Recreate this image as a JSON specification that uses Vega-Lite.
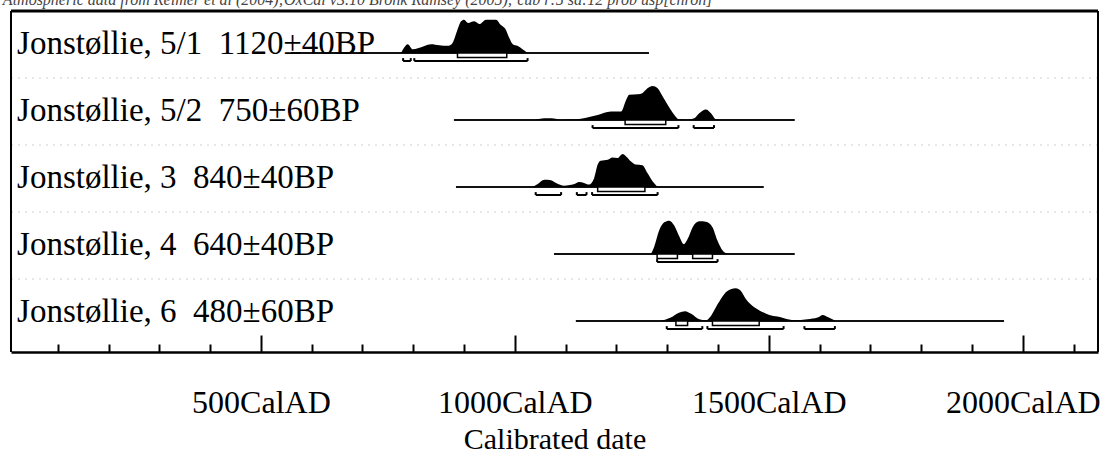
{
  "$schema": "https://vega.github.io/schema/vega-lite/v6.json",
  "padding": {"left": 2, "top": -8, "right": 0, "bottom": 0},
  "background": "white",
  "config": {
    "view": {"stroke": null},
    "font": "Liberation Serif"
  },
  "data": {
    "values": [
      {"id": "5/1", "kind": "line", "label": "Jonstøllie, 5/1\u00a0 1120±40BP", "from": 559, "to": 1264, "note": "Atmospheric data from Reimer et al (2004);OxCal v3.10 Bronk Ramsey (2005); cub r:5 sd:12 prob usp[chron]"},
      {"id": "5/2", "kind": "line", "label": "Jonstøllie, 5/2\u00a0 750±60BP", "from": 880, "to": 1551},
      {"id": "3", "kind": "line", "label": "Jonstøllie, 3\u00a0 840±40BP", "from": 884, "to": 1490},
      {"id": "4", "kind": "line", "label": "Jonstøllie, 4\u00a0 640±40BP", "from": 1077, "to": 1551},
      {"id": "6", "kind": "line", "label": "Jonstøllie, 6\u00a0 480±60BP", "from": 1120, "to": 1963},

      {"id": "5/1", "kind": "r68", "from": 887, "to": 984},
      {"id": "5/1", "kind": "r95", "from": 780, "to": 795},
      {"id": "5/1", "kind": "r95", "from": 802, "to": 1025},
      {"id": "5/2", "kind": "r68", "from": 1217, "to": 1297},
      {"id": "5/2", "kind": "r95", "from": 1153, "to": 1322},
      {"id": "5/2", "kind": "r95", "from": 1352, "to": 1392},
      {"id": "3", "kind": "r68", "from": 1163, "to": 1256},
      {"id": "3", "kind": "r95", "from": 1041, "to": 1091},
      {"id": "3", "kind": "r95", "from": 1122, "to": 1141},
      {"id": "3", "kind": "r95", "from": 1152, "to": 1281},
      {"id": "4", "kind": "r68", "from": 1280, "to": 1320},
      {"id": "4", "kind": "r68", "from": 1350, "to": 1389},
      {"id": "4", "kind": "r95", "from": 1280, "to": 1399},
      {"id": "6", "kind": "r68", "from": 1317, "to": 1340},
      {"id": "6", "kind": "r68", "from": 1389, "to": 1481},
      {"id": "6", "kind": "r95", "from": 1299, "to": 1369},
      {"id": "6", "kind": "r95", "from": 1379, "to": 1529},
      {"id": "6", "kind": "r95", "from": 1570, "to": 1630},

      {"id": "5/1", "kind": "d", "year": 776, "p": 0},
      {"id": "5/1", "kind": "d", "year": 782, "p": 0.16},
      {"id": "5/1", "kind": "d", "year": 789, "p": 0.26},
      {"id": "5/1", "kind": "d", "year": 799, "p": 0.11},
      {"id": "5/1", "kind": "d", "year": 809, "p": 0.14},
      {"id": "5/1", "kind": "d", "year": 835, "p": 0.26},
      {"id": "5/1", "kind": "d", "year": 851, "p": 0.23},
      {"id": "5/1", "kind": "d", "year": 868, "p": 0.21},
      {"id": "5/1", "kind": "d", "year": 877, "p": 0.29},
      {"id": "5/1", "kind": "d", "year": 886, "p": 0.64},
      {"id": "5/1", "kind": "d", "year": 894, "p": 0.93},
      {"id": "5/1", "kind": "d", "year": 900, "p": 0.98},
      {"id": "5/1", "kind": "d", "year": 908, "p": 0.88},
      {"id": "5/1", "kind": "d", "year": 920, "p": 0.93},
      {"id": "5/1", "kind": "d", "year": 930, "p": 0.85},
      {"id": "5/1", "kind": "d", "year": 943, "p": 0.98},
      {"id": "5/1", "kind": "d", "year": 963, "p": 0.98},
      {"id": "5/1", "kind": "d", "year": 972, "p": 0.83},
      {"id": "5/1", "kind": "d", "year": 982, "p": 0.69},
      {"id": "5/1", "kind": "d", "year": 989, "p": 0.44},
      {"id": "5/1", "kind": "d", "year": 996, "p": 0.26},
      {"id": "5/1", "kind": "d", "year": 1005, "p": 0.21},
      {"id": "5/1", "kind": "d", "year": 1015, "p": 0.11},
      {"id": "5/1", "kind": "d", "year": 1025, "p": 0},

      {"id": "5/2", "kind": "d", "year": 1040, "p": 0},
      {"id": "5/2", "kind": "d", "year": 1050, "p": 0.04},
      {"id": "5/2", "kind": "d", "year": 1065, "p": 0.05},
      {"id": "5/2", "kind": "d", "year": 1080, "p": 0.04},
      {"id": "5/2", "kind": "d", "year": 1090, "p": 0.0},
      {"id": "5/2", "kind": "d", "year": 1100, "p": 0.01},
      {"id": "5/2", "kind": "d", "year": 1130, "p": 0.04},
      {"id": "5/2", "kind": "d", "year": 1163, "p": 0.15},
      {"id": "5/2", "kind": "d", "year": 1189, "p": 0.25},
      {"id": "5/2", "kind": "d", "year": 1209, "p": 0.25},
      {"id": "5/2", "kind": "d", "year": 1219, "p": 0.59},
      {"id": "5/2", "kind": "d", "year": 1225, "p": 0.74},
      {"id": "5/2", "kind": "d", "year": 1242, "p": 0.76},
      {"id": "5/2", "kind": "d", "year": 1251, "p": 0.79},
      {"id": "5/2", "kind": "d", "year": 1261, "p": 0.93},
      {"id": "5/2", "kind": "d", "year": 1271, "p": 1.0},
      {"id": "5/2", "kind": "d", "year": 1281, "p": 0.93},
      {"id": "5/2", "kind": "d", "year": 1291, "p": 0.69},
      {"id": "5/2", "kind": "d", "year": 1301, "p": 0.44},
      {"id": "5/2", "kind": "d", "year": 1314, "p": 0.15},
      {"id": "5/2", "kind": "d", "year": 1323, "p": 0.02},
      {"id": "5/2", "kind": "d", "year": 1340, "p": 0.01},
      {"id": "5/2", "kind": "d", "year": 1353, "p": 0.05},
      {"id": "5/2", "kind": "d", "year": 1363, "p": 0.2},
      {"id": "5/2", "kind": "d", "year": 1376, "p": 0.31},
      {"id": "5/2", "kind": "d", "year": 1386, "p": 0.2},
      {"id": "5/2", "kind": "d", "year": 1396, "p": 0.02},
      {"id": "5/2", "kind": "d", "year": 1405, "p": 0},

      {"id": "3", "kind": "d", "year": 1035, "p": 0},
      {"id": "3", "kind": "d", "year": 1045, "p": 0.09},
      {"id": "3", "kind": "d", "year": 1058, "p": 0.21},
      {"id": "3", "kind": "d", "year": 1071, "p": 0.2},
      {"id": "3", "kind": "d", "year": 1081, "p": 0.12},
      {"id": "3", "kind": "d", "year": 1097, "p": 0.04},
      {"id": "3", "kind": "d", "year": 1114, "p": 0.07},
      {"id": "3", "kind": "d", "year": 1127, "p": 0.15},
      {"id": "3", "kind": "d", "year": 1136, "p": 0.12},
      {"id": "3", "kind": "d", "year": 1146, "p": 0.07},
      {"id": "3", "kind": "d", "year": 1156, "p": 0.26},
      {"id": "3", "kind": "d", "year": 1163, "p": 0.66},
      {"id": "3", "kind": "d", "year": 1169, "p": 0.77},
      {"id": "3", "kind": "d", "year": 1183, "p": 0.8},
      {"id": "3", "kind": "d", "year": 1192, "p": 0.87},
      {"id": "3", "kind": "d", "year": 1202, "p": 0.85},
      {"id": "3", "kind": "d", "year": 1212, "p": 0.97},
      {"id": "3", "kind": "d", "year": 1219, "p": 0.9},
      {"id": "3", "kind": "d", "year": 1228, "p": 0.76},
      {"id": "3", "kind": "d", "year": 1238, "p": 0.66},
      {"id": "3", "kind": "d", "year": 1251, "p": 0.64},
      {"id": "3", "kind": "d", "year": 1261, "p": 0.41},
      {"id": "3", "kind": "d", "year": 1271, "p": 0.17},
      {"id": "3", "kind": "d", "year": 1281, "p": 0},

      {"id": "4", "kind": "d", "year": 1268, "p": 0},
      {"id": "4", "kind": "d", "year": 1274, "p": 0.2},
      {"id": "4", "kind": "d", "year": 1284, "p": 0.69},
      {"id": "4", "kind": "d", "year": 1294, "p": 0.93},
      {"id": "4", "kind": "d", "year": 1304, "p": 0.98},
      {"id": "4", "kind": "d", "year": 1314, "p": 0.83},
      {"id": "4", "kind": "d", "year": 1323, "p": 0.54},
      {"id": "4", "kind": "d", "year": 1333, "p": 0.29},
      {"id": "4", "kind": "d", "year": 1340, "p": 0.44},
      {"id": "4", "kind": "d", "year": 1350, "p": 0.79},
      {"id": "4", "kind": "d", "year": 1363, "p": 0.96},
      {"id": "4", "kind": "d", "year": 1376, "p": 0.95},
      {"id": "4", "kind": "d", "year": 1389, "p": 0.79},
      {"id": "4", "kind": "d", "year": 1399, "p": 0.39},
      {"id": "4", "kind": "d", "year": 1409, "p": 0.1},
      {"id": "4", "kind": "d", "year": 1419, "p": 0},

      {"id": "6", "kind": "d", "year": 1287, "p": 0},
      {"id": "6", "kind": "d", "year": 1307, "p": 0.1},
      {"id": "6", "kind": "d", "year": 1323, "p": 0.24},
      {"id": "6", "kind": "d", "year": 1335, "p": 0.29},
      {"id": "6", "kind": "d", "year": 1347, "p": 0.21},
      {"id": "6", "kind": "d", "year": 1363, "p": 0.05},
      {"id": "6", "kind": "d", "year": 1376, "p": 0.02},
      {"id": "6", "kind": "d", "year": 1386, "p": 0.15},
      {"id": "6", "kind": "d", "year": 1399, "p": 0.49},
      {"id": "6", "kind": "d", "year": 1412, "p": 0.79},
      {"id": "6", "kind": "d", "year": 1425, "p": 0.93},
      {"id": "6", "kind": "d", "year": 1435, "p": 0.96},
      {"id": "6", "kind": "d", "year": 1445, "p": 0.88},
      {"id": "6", "kind": "d", "year": 1455, "p": 0.64},
      {"id": "6", "kind": "d", "year": 1468, "p": 0.44},
      {"id": "6", "kind": "d", "year": 1484, "p": 0.29},
      {"id": "6", "kind": "d", "year": 1501, "p": 0.18},
      {"id": "6", "kind": "d", "year": 1517, "p": 0.13},
      {"id": "6", "kind": "d", "year": 1530, "p": 0.08},
      {"id": "6", "kind": "d", "year": 1550, "p": 0.02},
      {"id": "6", "kind": "d", "year": 1576, "p": 0.05},
      {"id": "6", "kind": "d", "year": 1596, "p": 0.1},
      {"id": "6", "kind": "d", "year": 1606, "p": 0.18},
      {"id": "6", "kind": "d", "year": 1616, "p": 0.12},
      {"id": "6", "kind": "d", "year": 1632, "p": 0}
    ]
  },
  "facet": {
    "row": {"field": "id", "type": "nominal", "sort": ["5/1", "5/2", "3", "4", "6"], "header": null, "title": null}
  },
  "spacing": 0,
  "bounds": "flush",
  "spec": {
    "width": 1087,
    "height": 67,
    "layer": [
      {
        "transform": [{"filter": "datum.kind === 'line'"}],
        "mark": {"type": "rule", "color": "#111111", "strokeWidth": 2},
        "encoding": {
          "x": {
            "field": "from", "type": "quantitative",
            "scale": {"domain": [8, 2148], "nice": false, "zero": false},
            "axis": {
              "values": [100, 200, 300, 400, 500, 600, 700, 800, 900, 1000, 1100, 1200, 1300, 1400, 1500, 1600, 1700, 1800, 1900, 2000, 2100],
              "labelExpr": "datum.value % 500 === 0 ? datum.value + 'CalAD' : ''",
              "tickSize": {"condition": {"test": "datum.value % 500 === 0", "value": -17}, "value": -8},
              "tickWidth": 2, "tickColor": "black",
              "domainColor": "black", "domainWidth": 2.5,
              "labelFont": "Liberation Serif", "labelFontSize": 32, "labelColor": "black",
              "labelPadding": 52, "labelFlush": false, "labelOverlap": false,
              "title": "Calibrated date", "titleFont": "Liberation Serif", "titleFontSize": 30,
              "titleFontWeight": "normal", "titleColor": "black", "titlePadding": -3,
              "offset": 6, "grid": false
            }
          },
          "x2": {"field": "to"},
          "y": {"datum": 0, "type": "quantitative", "scale": {"domain": [-0.735, 1.235]}, "axis": null}
        }
      },
      {
        "transform": [{"filter": "datum.kind === 'line' && datum.id !== '6'"}],
        "mark": {"type": "rule", "color": "#cfcfcf", "strokeWidth": 1, "strokeDash": [2, 5]},
        "encoding": {
          "x": {"datum": 8, "type": "quantitative", "scale": {"domain": [8, 2148], "nice": false, "zero": false}},
          "x2": {"datum": 2148},
          "y": {"datum": -0.735, "type": "quantitative", "scale": {"domain": [-0.735, 1.235]}, "axis": null}
        }
      },
      {
        "transform": [{"filter": "datum.kind === 'd'"}],
        "mark": {"type": "area", "color": "black", "interpolate": "monotone"},
        "encoding": {
          "x": {"field": "year", "type": "quantitative", "scale": {"domain": [8, 2148], "nice": false, "zero": false}},
          "y": {"field": "p", "type": "quantitative", "scale": {"domain": [-0.735, 1.235]}, "axis": null},
          "y2": {"datum": 0}
        }
      },
      {
        "transform": [{"filter": "datum.kind === 'r68'"}],
        "mark": {"type": "rect", "fill": "white", "stroke": "black", "strokeWidth": 1.5},
        "encoding": {
          "x": {"field": "from", "type": "quantitative", "scale": {"domain": [8, 2148], "nice": false, "zero": false}},
          "x2": {"field": "to"},
          "y": {"datum": 0, "type": "quantitative", "scale": {"domain": [-0.735, 1.235]}, "axis": null},
          "y2": {"datum": -0.13}
        }
      },
      {
        "transform": [{"filter": "datum.kind === 'r95'"}],
        "mark": {"type": "rule", "color": "black", "strokeWidth": 2},
        "encoding": {
          "x": {"field": "from", "type": "quantitative", "scale": {"domain": [8, 2148], "nice": false, "zero": false}},
          "x2": {"field": "to"},
          "y": {"datum": -0.235, "type": "quantitative", "scale": {"domain": [-0.735, 1.235]}, "axis": null}
        }
      },
      {
        "transform": [{"filter": "datum.kind === 'r95'"}],
        "mark": {"type": "rule", "color": "black", "strokeWidth": 2},
        "encoding": {
          "x": {"field": "from", "type": "quantitative", "scale": {"domain": [8, 2148], "nice": false, "zero": false}},
          "y": {"datum": -0.235, "type": "quantitative", "scale": {"domain": [-0.735, 1.235]}, "axis": null},
          "y2": {"datum": -0.15}
        }
      },
      {
        "transform": [{"filter": "datum.kind === 'r95'"}],
        "mark": {"type": "rule", "color": "black", "strokeWidth": 2},
        "encoding": {
          "x": {"field": "to", "type": "quantitative", "scale": {"domain": [8, 2148], "nice": false, "zero": false}},
          "y": {"datum": -0.235, "type": "quantitative", "scale": {"domain": [-0.735, 1.235]}, "axis": null},
          "y2": {"datum": -0.15}
        }
      },
      {
        "transform": [{"filter": "datum.kind === 'line'"}],
        "mark": {"type": "text", "align": "left", "baseline": "alphabetic", "font": "Liberation Serif", "fontSize": 33, "color": "black"},
        "encoding": {
          "x": {"datum": 20, "type": "quantitative", "scale": {"domain": [8, 2148], "nice": false, "zero": false}},
          "y": {"datum": -0.03, "type": "quantitative", "scale": {"domain": [-0.735, 1.235]}, "axis": null},
          "text": {"field": "label"}
        }
      },
      {
        "transform": [{"filter": "datum.kind === 'line' && datum.id === '5/1'"}],
        "mark": {"type": "text", "align": "left", "baseline": "alphabetic", "font": "Liberation Serif", "fontSize": 16, "fontStyle": "italic", "color": "#444444"},
        "encoding": {
          "x": {"datum": -8, "type": "quantitative", "scale": {"domain": [8, 2148], "nice": false, "zero": false}},
          "y": {"datum": 1.41, "type": "quantitative", "scale": {"domain": [-0.735, 1.235]}, "axis": null},
          "text": {"field": "note"}
        }
      },
      {
        "transform": [{"filter": "datum.kind === 'line'"}],
        "mark": {"type": "rule", "color": "black", "strokeWidth": 2},
        "encoding": {
          "x": {"datum": 8, "type": "quantitative", "scale": {"domain": [8, 2148], "nice": false, "zero": false}},
          "y": {"datum": 1.235, "type": "quantitative", "scale": {"domain": [-0.735, 1.235]}, "axis": null},
          "y2": {"datum": -0.912}
        }
      },
      {
        "transform": [{"filter": "datum.kind === 'line'"}],
        "mark": {"type": "rule", "color": "black", "strokeWidth": 2},
        "encoding": {
          "x": {"datum": 2148, "type": "quantitative", "scale": {"domain": [8, 2148], "nice": false, "zero": false}},
          "y": {"datum": 1.235, "type": "quantitative", "scale": {"domain": [-0.735, 1.235]}, "axis": null},
          "y2": {"datum": -0.912}
        }
      },
      {
        "transform": [{"filter": "datum.kind === 'line' && datum.id === '5/1'"}],
        "mark": {"type": "rule", "color": "black", "strokeWidth": 3},
        "encoding": {
          "x": {"datum": 8, "type": "quantitative", "scale": {"domain": [8, 2148], "nice": false, "zero": false}},
          "x2": {"datum": 2148},
          "y": {"datum": 1.235, "type": "quantitative", "scale": {"domain": [-0.735, 1.235]}, "axis": null}
        }
      }
    ]
  }
}
